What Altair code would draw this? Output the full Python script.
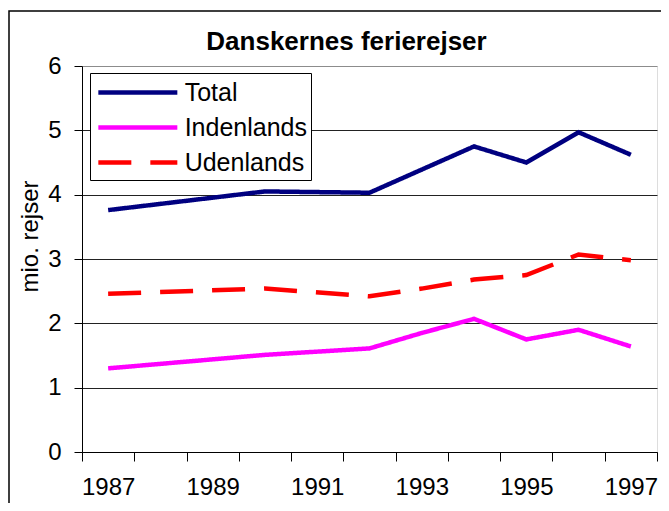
import altair as alt
import pandas as pd

# ---- data ----
years = [1987, 1990, 1992, 1993, 1994, 1995, 1996, 1997]
total = [3.76, 4.05, 4.03, 4.39, 4.75, 4.50, 4.97, 4.62]
indenlands = [1.30, 1.51, 1.61, 1.85, 2.07, 1.75, 1.90, 1.64]
udenlands = [2.46, 2.54, 2.42, 2.54, 2.68, 2.75, 3.07, 2.98]

series_names = ["Total", "Indenlands", "Udenlands"]
series_colors = ["#000080", "#FF00FF", "#FF0000"]
series_dash = [[1, 0], [1, 0], [33, 19]]
y_ticks = [0, 1, 2, 3, 4, 5, 6]
first_year, last_year = 1987, 1997
title_text = "Danskernes ferierejser"
y_title = "mio. rejser"

rows = []
for name, vals in zip(series_names, [total, indenlands, udenlands]):
    for yr, v in zip(years, vals):
        rows.append({"year": yr, "value": v, "series": name})
df = pd.DataFrame(rows)

FONT = "Liberation Sans"
W, H = 575, 386
n_cat = last_year - first_year + 1
half = W / n_cat / 2
boundaries = [first_year - 0.5 + i for i in range(n_cat + 1)]

x_scale = alt.Scale(domain=[first_year - 0.5, last_year + 0.5], nice=False, zero=False)
y_scale = alt.Scale(domain=[0, 6], nice=False, zero=True)

label_expr = (
    "((datum.value + 0.5) % 2 == 1) && datum.value < " + str(last_year)
    + " ? format(datum.value + 0.5, 'd') : ''"
)

# legend key: a line 6 units long in the [-1, 1] symbol box -> 3*sqrt(size) px
sym_w = 79 / 3.0
legend = alt.Legend(
    title=None,
    orient="none",
    legendX=8,
    legendY=7,
    padding=4,
    symbolOffset=2,
    fillColor="white",
    strokeColor="black",
    symbolType="M-1,0H5",
    symbolSize=sym_w * sym_w,
    symbolStrokeWidth=4.5,
    labelFontSize=25,
    labelFont=FONT,
    labelColor="black",
    labelOffset=2 * sym_w + 5,
    rowPadding=6,
)

lines = alt.Chart(df).mark_line(strokeWidth=4.5, strokeCap="butt").encode(
    x=alt.X(
        "year:Q",
        scale=x_scale,
        axis=alt.Axis(
            values=boundaries,
            title=None,
            grid=False,
            tickSize=9,
            tickColor="black",
            domainColor="black",
            labelExpr=label_expr,
            labelOffset=half,
            labelFlush=False,
            labelOverlap=False,
            labelPadding=14,
            labelFontSize=24,
            labelFont=FONT,
            labelColor="black",
        ),
    ),
    y=alt.Y(
        "value:Q",
        scale=y_scale,
        axis=alt.Axis(
            values=y_ticks,
            title=y_title,
            titleFont=FONT,
            titleFontSize=24,
            titleFontWeight="normal",
            titleColor="black",
            titleX=-45,
            titleY=170,
            titleAlign="center",
            titleBaseline="alphabetic",
            grid=True,
            gridColor={"condition": {"test": "datum.value == 6", "value": "#8c8c8c"}, "value": "#222222"},
            tickSize=8,
            tickColor="black",
            domainColor="black",
            labelPadding=13,
            labelFontSize=24,
            labelFont=FONT,
            labelColor="black",
        ),
    ),
    color=alt.Color("series:N", scale=alt.Scale(domain=series_names, range=series_colors), legend=legend),
    strokeDash=alt.StrokeDash("series:N", scale=alt.Scale(domain=series_names, range=series_dash), legend=legend),
)

frame = alt.Chart(pd.DataFrame({"k": [0]})).mark_rect(
    fillOpacity=0, stroke="black", strokeWidth=1.5
).encode(
    x=alt.value(-73), x2=alt.value(700), y=alt.value(-55), y2=alt.value(600)
)

chart = alt.layer(frame, lines).properties(
    width=W,
    height=H,
    autosize="none",
    padding={"left": 74, "top": 58, "right": 4, "bottom": 51},
    title=alt.Title(
        title_text,
        font=FONT,
        fontSize=26,
        fontWeight="bold",
        color="black",
        anchor="middle",
        baseline="alphabetic",
        dx=-23,
        dy=74,
        offset=8,
    ),
).configure_view(stroke="#8c8c8c", strokeWidth=1).configure(background="white")

chart.save("out.html", embed_options={"renderer": "svg", "actions": False})
